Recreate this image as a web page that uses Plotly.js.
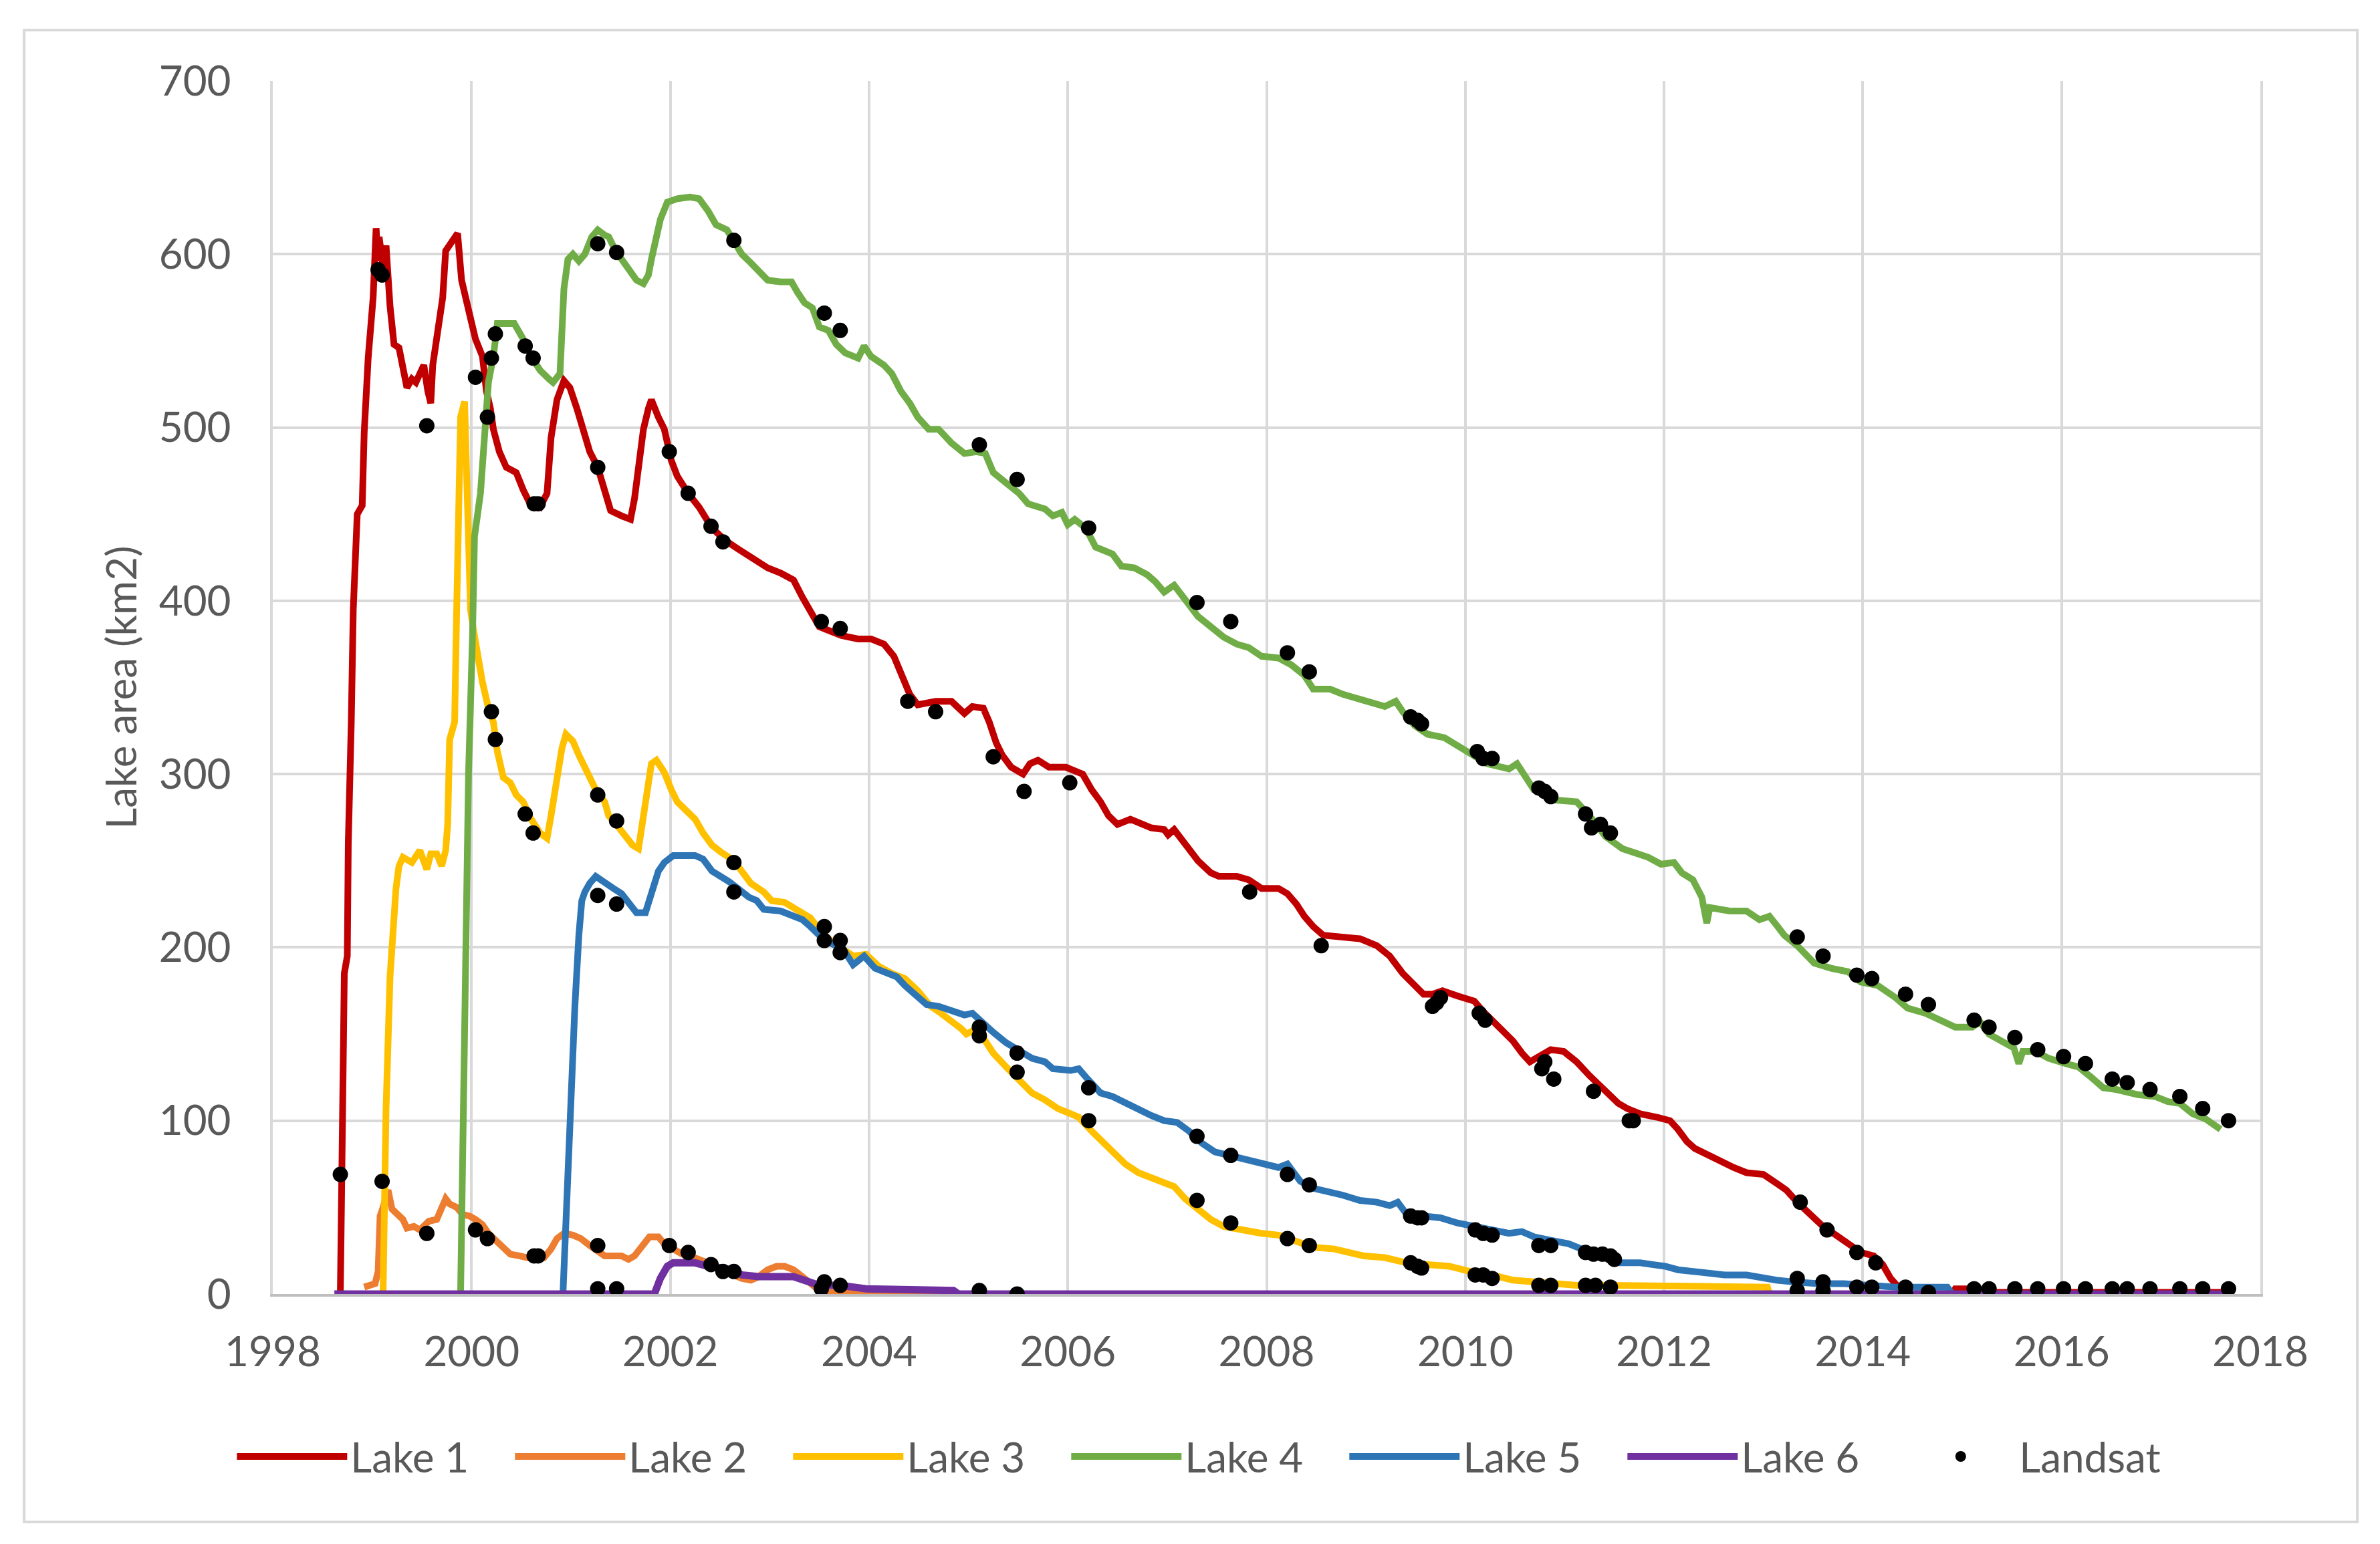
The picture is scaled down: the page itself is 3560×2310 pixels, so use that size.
<!DOCTYPE html>
<html>
<head>
<meta charset="utf-8">
<script src="https://cdn.plot.ly/plotly-3.0.1.min.js"></script>
<style>
  body { margin: 0; background: #fff; }
  #chart { width: 3560px; height: 2310px; }
</style>
</head>
<body>
<div id="chart"></div>
<script>
// lake area time series (year as decimal, area in km2)
var lake1Year = [1998.68,1998.69,1998.70,1998.72,1998.75,1998.76,1998.79,1998.81,1998.85,1998.90,1998.92,1998.96,1999.01,1999.04,1999.06,1999.07,1999.11,1999.14,1999.18,1999.22,1999.27,1999.31,1999.35,1999.40,1999.44,1999.48,1999.52,1999.56,1999.59,1999.61,1999.65,1999.71,1999.74,1999.81,1999.86,1999.90,1999.95,1999.99,2000.04,2000.11,2000.15,2000.19,2000.22,2000.28,2000.35,2000.45,2000.52,2000.58,2000.69,2000.76,2000.80,2000.86,2000.93,2000.99,2001.06,2001.12,2001.19,2001.27,2001.34,2001.40,2001.51,2001.60,2001.64,2001.68,2001.73,2001.78,2001.81,2001.88,2001.94,2002.01,2002.07,2002.18,2002.29,2002.42,2002.55,2002.68,2002.81,2002.98,2003.11,2003.24,2003.33,2003.41,2003.50,2003.72,2003.89,2004.02,2004.15,2004.25,2004.32,2004.41,2004.49,2004.67,2004.83,2004.96,2005.04,2005.15,2005.21,2005.28,2005.34,2005.43,2005.55,2005.62,2005.70,2005.81,2005.98,2006.15,2006.24,2006.33,2006.41,2006.50,2006.63,2006.71,2006.84,2006.97,2007.01,2007.07,2007.18,2007.31,2007.44,2007.52,2007.70,2007.82,2007.95,2008.12,2008.21,2008.30,2008.38,2008.47,2008.57,2008.77,2008.94,2009.11,2009.24,2009.37,2009.49,2009.58,2009.67,2009.77,2009.92,2010.09,2010.18,2010.27,2010.39,2010.48,2010.57,2010.65,2010.74,2010.86,2010.99,2011.12,2011.25,2011.38,2011.54,2011.63,2011.76,2011.93,2012.06,2012.14,2012.23,2012.31,2012.44,2012.57,2012.70,2012.83,2013.00,2013.13,2013.23,2013.34,2013.47,2013.60,2013.73,2013.85,2013.98,2014.11,2014.20,2014.28,2014.37,2014.42,2014.90,2014.93,2015.10,2015.13,2017.70];
var lake1Area = [0,70,90,185,195,260,330,395,450,455,497,540,575,615,596,610,593,605,570,548,546,536,523,528,526,531,536,521,514,536,551,575,602,607,612,585,570,563,551,541,521,511,499,486,477,474,464,457,454,462,494,516,527,523,511,499,486,477,462,452,449,447,459,477,499,511,516,506,499,481,472,462,454,442,435,430,425,419,416,412,402,393,385,380,378,378,375,368,358,346,340,342,342,335,339,338,330,318,311,304,300,306,308,304,304,300,291,284,276,271,274,272,269,268,265,268,259,250,243,241,241,239,234,234,231,225,218,212,207,206,205,201,195,185,178,173,173,175,172,169,163,158,152,146,139,134,137,141,140,134,126,119,110,107,104,102,100,95,88,84,80,77,73,70,69,64,60,53,46,39,34,29,24,22,17,9,3,0,0,3,3,1,1];

var lake2Year = [1998.92,1998.96,1999.03,1999.06,1999.08,1999.11,1999.16,1999.20,1999.27,1999.31,1999.35,1999.42,1999.48,1999.57,1999.65,1999.70,1999.74,1999.78,1999.85,1999.91,1999.98,2000.04,2000.11,2000.17,2000.24,2000.30,2000.39,2000.48,2000.56,2000.73,2000.80,2000.86,2000.93,2001.02,2001.10,2001.19,2001.25,2001.34,2001.51,2001.58,2001.64,2001.73,2001.79,2001.88,2001.94,2002.03,2002.12,2002.20,2002.29,2002.38,2002.46,2002.55,2002.64,2002.72,2002.81,2002.89,2002.98,2003.07,2003.15,2003.24,2003.33,2003.41,2003.50,2003.59,2004.00,2004.85];
var lake2Area = [4,5,6,13,45,50,60,49,45,43,38,39,37,42,43,49,55,52,50,46,45,43,40,35,31,27,23,22,21,21,26,32,35,34,32,28,26,22,22,20,22,29,33,33,29,26,23,22,20,18,16,14,11,9,8,10,14,16,16,14,10,6,2,1,1,0];

var lake3Year = [1999.11,1999.14,1999.18,1999.21,1999.24,1999.27,1999.31,1999.40,1999.48,1999.55,1999.59,1999.65,1999.70,1999.74,1999.76,1999.78,1999.83,1999.85,1999.87,1999.89,1999.93,1999.95,1999.99,2000.02,2000.06,2000.11,2000.17,2000.22,2000.26,2000.32,2000.39,2000.45,2000.52,2000.60,2000.69,2000.76,2000.80,2000.86,2000.91,2000.95,2001.02,2001.08,2001.17,2001.25,2001.34,2001.38,2001.47,2001.56,2001.62,2001.68,2001.72,2001.77,2001.81,2001.86,2001.94,2002.01,2002.07,2002.16,2002.25,2002.33,2002.42,2002.51,2002.59,2002.68,2002.81,2002.94,2003.02,2003.15,2003.28,2003.41,2003.54,2003.71,2003.84,2003.97,2004.10,2004.23,2004.36,2004.49,2004.62,2004.70,2004.83,2004.93,2004.98,2005.08,2005.17,2005.25,2005.38,2005.51,2005.64,2005.77,2005.90,2006.03,2006.11,2006.24,2006.37,2006.50,2006.58,2006.71,2006.84,2006.97,2007.07,2007.18,2007.31,2007.44,2007.57,2007.74,2007.95,2008.12,2008.30,2008.47,2008.68,2008.81,2008.98,2009.19,2009.41,2009.62,2009.84,2010.05,2010.27,2010.48,2010.69,2010.91,2011.12,2011.41,2012.00,2013.04,2013.06];
var lake3Area = [0,107,183,210,234,247,252,249,256,245,254,254,247,256,271,320,330,393,469,506,515,470,395,383,368,353,338,330,313,298,295,288,284,274,266,263,276,298,315,323,319,311,301,291,284,276,270,264,259,257,274,293,306,308,301,291,284,279,274,266,259,255,252,247,237,232,227,226,222,217,207,200,195,196,189,185,182,175,166,163,158,153,150,153,146,139,131,124,116,112,107,104,102,94,87,80,75,70,67,65,62,55,49,43,39,37,35,34,30,27,26,24,22,21,18,17,16,13,11,8,7,6,5,5,4.5,4,0];

var lake4Year = [1999.89,1999.91,1999.94,1999.97,2000.01,2000.03,2000.09,2000.13,2000.17,2000.22,2000.26,2000.43,2000.52,2000.60,2000.69,2000.78,2000.82,2000.89,2000.91,2000.93,2000.97,2001.02,2001.08,2001.14,2001.21,2001.27,2001.34,2001.38,2001.45,2001.51,2001.60,2001.66,2001.73,2001.78,2001.81,2001.86,2001.90,2001.97,2002.07,2002.20,2002.29,2002.38,2002.46,2002.57,2002.64,2002.72,2002.81,2002.89,2002.98,2003.11,2003.22,2003.28,2003.35,2003.43,2003.50,2003.59,2003.67,2003.76,2003.89,2003.95,2004.02,2004.15,2004.23,2004.32,2004.41,2004.49,2004.60,2004.70,2004.83,2004.96,2005.08,2005.17,2005.25,2005.38,2005.51,2005.60,2005.77,2005.85,2005.94,2006.00,2006.07,2006.18,2006.28,2006.45,2006.54,2006.67,2006.80,2006.88,2006.97,2007.07,2007.18,2007.31,2007.44,2007.57,2007.70,2007.82,2007.95,2008.12,2008.25,2008.38,2008.47,2008.64,2008.77,2008.94,2009.11,2009.19,2009.30,2009.37,2009.49,2009.62,2009.79,2010.01,2010.22,2010.44,2010.52,2010.69,2010.91,2011.12,2011.25,2011.41,2011.58,2011.84,2011.97,2012.10,2012.18,2012.29,2012.38,2012.43,2012.46,2012.66,2012.83,2012.96,2013.06,2013.13,2013.21,2013.34,2013.51,2013.68,2013.85,2013.98,2014.15,2014.33,2014.45,2014.63,2014.80,2014.93,2015.10,2015.18,2015.27,2015.40,2015.52,2015.57,2015.61,2015.74,2015.87,2016.04,2016.17,2016.30,2016.42,2016.55,2016.77,2016.94,2017.07,2017.19,2017.32,2017.45,2017.60];
var lake4Area = [0,75,188,300,380,437,462,501,526,541,560,560,551,541,533,528,526,531,553,580,597,600,596,600,610,614,611,610,602,597,590,585,583,588,597,610,620,630,632,633,632,625,617,614,607,600,595,590,585,584,584,578,572,569,558,556,548,543,540,547,541,536,531,521,514,506,499,499,491,485,486,485,474,468,462,456,453,449,451,444,447,442,431,427,420,419,415,411,405,409,401,391,385,379,375,373,368,367,363,357,349,349,346,343,341,339,342,336,328,323,321,313,306,303,306,291,285,284,276,264,257,252,248,249,243,239,229,214,223,221,221,216,218,213,207,201,191,188,186,180,178,171,165,162,157,154,154,157,150,146,142,133,140,140,136,133,131,125,119,118,115,114,111,110,104,101,95];

var lake5Year = [2000.92,2000.95,2001.00,2001.04,2001.08,2001.11,2001.14,2001.19,2001.25,2001.34,2001.43,2001.51,2001.60,2001.66,2001.75,2001.79,2001.84,2001.88,2001.94,2002.03,2002.25,2002.33,2002.42,2002.51,2002.59,2002.68,2002.79,2002.87,2002.94,2003.11,2003.24,2003.33,2003.41,2003.50,2003.63,2003.74,2003.84,2003.95,2004.06,2004.19,2004.28,2004.36,2004.45,2004.58,2004.70,2004.83,2004.96,2005.04,2005.13,2005.25,2005.38,2005.51,2005.64,2005.77,2005.85,2006.03,2006.11,2006.20,2006.33,2006.45,2006.58,2006.71,2006.84,2006.97,2007.10,2007.22,2007.35,2007.48,2007.61,2007.78,2007.95,2008.12,2008.21,2008.34,2008.47,2008.64,2008.77,2008.94,2009.11,2009.24,2009.32,2009.41,2009.58,2009.75,2009.92,2010.09,2010.27,2010.44,2010.57,2010.69,2010.86,2011.04,2011.17,2011.29,2011.41,2011.54,2011.76,2011.88,2012.01,2012.14,2012.31,2012.48,2012.61,2012.83,2013.00,2013.13,2013.30,2013.55,2013.81,2014.07,2014.33,2014.58,2014.85,2014.90];
var lake5Area = [0,45,107,166,207,227,232,237,241,238,234,231,225,220,220,227,234,244,249,253,253,251,244,241,238,234,229,227,222,221,218,216,212,207,202,199,190,195,188,185,183,178,173,167,166,163,161,162,157,151,145,141,136,134,130,129,130,124,116,114,110,107,103,100,99,94,87,82,80,78,75,73,75,65,61,59,57,54,53,51,53,46,45,44,41,39,37,35,36,33,31,29,26,23,21,18,18,17,16,14,13,12,11,11,9,8,7,6,6,5,4,4,4,0];

var lake6Year = [1998.62,2001.84,2001.90,2001.97,2002.03,2002.25,2002.38,2002.51,2002.64,2002.72,2002.89,2003.24,2003.33,2003.50,2003.71,2003.84,2003.97,2004.85,2004.90,2017.70];
var lake6Area = [0,0,9,16,18,18,16,15,14,11,10,10,8,5,5,4,3,2,0,0];

// Landsat observations
var landsatYear = [1998.68,1999.06,1999.10,1999.10,1999.55,1999.55,2000.04,2000.04,2000.16,2000.16,2000.20,2000.20,2000.24,2000.24,2000.54,2000.54,2000.62,2000.62,2000.63,2000.63,2000.67,2000.67,2001.27,2001.27,2001.27,2001.27,2001.27,2001.27,2001.46,2001.46,2001.46,2001.46,2001.99,2001.99,2002.18,2002.18,2002.41,2002.41,2002.53,2002.53,2002.64,2002.64,2002.64,2002.64,2003.52,2003.52,2003.55,2003.55,2003.55,2003.55,2003.71,2003.71,2003.71,2003.71,2003.71,2004.39,2004.67,2005.11,2005.11,2005.11,2005.11,2005.25,2005.49,2005.49,2005.49,2005.49,2005.56,2006.02,2006.21,2006.21,2006.21,2007.30,2007.30,2007.30,2007.64,2007.64,2007.64,2007.83,2008.21,2008.21,2008.21,2008.43,2008.43,2008.43,2008.55,2009.45,2009.45,2009.45,2009.52,2009.52,2009.52,2009.56,2009.56,2009.56,2009.67,2009.71,2009.75,2010.12,2010.10,2010.10,2010.14,2010.18,2010.18,2010.18,2010.20,2010.27,2010.27,2010.27,2010.74,2010.74,2010.74,2010.77,2010.80,2010.80,2010.86,2010.86,2010.86,2010.89,2011.21,2011.21,2011.21,2011.27,2011.29,2011.29,2011.31,2011.36,2011.38,2011.46,2011.46,2011.46,2011.50,2011.65,2011.69,2013.34,2013.34,2013.34,2013.37,2013.60,2013.60,2013.60,2013.64,2013.94,2013.94,2013.94,2014.09,2014.09,2014.13,2014.43,2014.43,2014.43,2014.66,2014.66,2015.12,2015.12,2015.27,2015.27,2015.53,2015.53,2015.76,2015.76,2016.02,2016.02,2016.24,2016.24,2016.51,2016.51,2016.66,2016.66,2016.89,2016.89,2017.19,2017.19,2017.42,2017.42,2017.68,2017.68];
var landsatArea = [69,591,588,65,501,35,529,37,506,32,540,336,554,320,547,277,540,266,456,22,456,22,606,477,288,230,28,3,601,273,225,3,486,28,462,24,443,17,434,13,608,249,232,13,388,3,566,212,204,7,556,384,204,197,5,342,336,490,154,149,2,310,470,139,128,0,290,295,442,119,100,399,91,54,388,80,41,232,370,69,32,359,63,28,201,333,45,18,331,44,16,329,44,15,166,168,171,313,37,11,162,309,35,11,158,309,34,9,292,28,5,130,290,134,287,28,5,124,277,24,5,269,117,23,5,271,23,266,22,4,20,100,100,206,9,2,53,195,7,2,37,184,24,4,182,4,18,173,4,0,167,1,158,3,154,3,148,3,141,3,137,3,133,3,124,3,122,3,118,3,114,3,107,3,100,3];

var textGrey = "#595959";
var gridGrey = "#d9d9d9";
var fontFamily = "Lato, 'Open Sans', sans-serif";
var fontSize = 62;

function lakeTrace(name, x, y, color, width) {
  return {
    x: x, y: y, name: name,
    type: "scatter", mode: "lines",
    line: {color: color, width: width}
  };
}

var data = [
  lakeTrace("Lake 1", lake1Year, lake1Area, "#C00000", 10),
  lakeTrace("Lake 2", lake2Year, lake2Area, "#ED7D31", 10),
  lakeTrace("Lake 3", lake3Year, lake3Area, "#FFC000", 10),
  lakeTrace("Lake 4", lake4Year, lake4Area, "#70AD47", 10),
  lakeTrace("Lake 5", lake5Year, lake5Area, "#2E75B6", 10),
  lakeTrace("Lake 6", lake6Year, lake6Area, "#7030A0", 11),
  {
    x: landsatYear, y: landsatArea, name: "Landsat",
    type: "scatter", mode: "markers",
    marker: {color: "#000000", size: 23}
  }
];

var layout = {
  width: 3560,
  height: 2310,
  paper_bgcolor: "#ffffff",
  plot_bgcolor: "#ffffff",
  margin: {l: 408, r: 179, t: 121, b: 374},
  font: {family: fontFamily, size: fontSize, color: textGrey},
  showlegend: true,
  xaxis: {
    range: [1998, 2018],
    dtick: 2,
    tick0: 1998,
    tickformat: "d",
    showgrid: true,
    gridcolor: gridGrey,
    gridwidth: 4,
    zeroline: false,
    showline: true,
    linecolor: "#bfbfbf",
    linewidth: 4,
    ticks: "outside",
    ticklen: 30,
    tickcolor: "rgba(0,0,0,0)",
    tickfont: {family: fontFamily, size: fontSize, color: textGrey}
  },
  yaxis: {
    range: [0, 700],
    dtick: 100,
    showgrid: true,
    gridcolor: gridGrey,
    gridwidth: 4,
    zeroline: false,
    showline: true,
    mirror: true,
    linecolor: gridGrey,
    linewidth: 4,
    ticks: "outside",
    ticklen: 46,
    tickcolor: "rgba(0,0,0,0)",
    tickfont: {family: fontFamily, size: fontSize, color: textGrey},
    title: {text: "Lake area (km2)", font: {family: fontFamily, size: fontSize, color: textGrey}, standoff: 14}
  },
  legend: {
    orientation: "h",
    x: 0.47,
    xanchor: "center",
    y: -0.134,
    yanchor: "middle",
    font: {family: fontFamily, size: fontSize, color: textGrey},
    itemwidth: 165,
    entrywidth: 236,
    bgcolor: "rgba(0,0,0,0)"
  },
  shapes: [{
    type: "rect", xref: "paper", yref: "paper",
    x0: -0.1251, x1: 1.0488, y0: -0.1879, y1: 1.0419,
    line: {color: gridGrey, width: 4},
    layer: "below"
  }]
};

Plotly.newPlot("chart", data, layout, {displayModeBar: false});
</script>
</body>
</html>
